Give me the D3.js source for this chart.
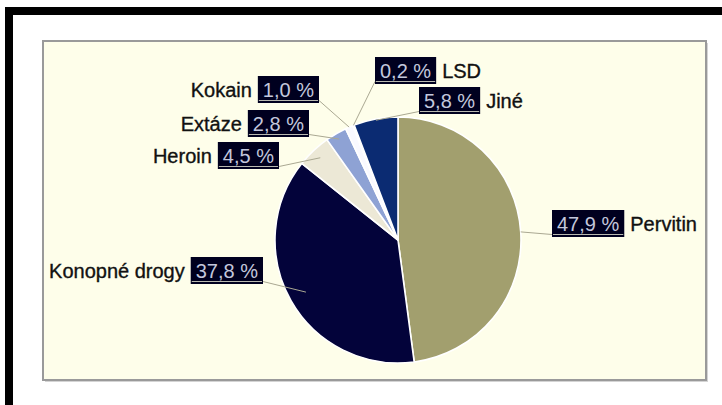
<!DOCTYPE html>
<html>
<head>
<meta charset="utf-8">
<script src="https://cdn.jsdelivr.net/npm/d3@7"></script>
<style>
  html, body { margin: 0; padding: 0; background: #ffffff; }
  svg { display: block; }
  text { font-family: "Liberation Sans", Arial, sans-serif; }
</style>
</head>
<body>
<svg id="chart" width="722" height="405"></svg>
<script>
// Drug categories, shares (%) and printed labels, clockwise from 12 o'clock
const categories = ["Pervitin", "Konopné drogy", "Heroin", "Extáze", "Kokain", "LSD", "Jiné"];
const shares = [47.9, 37.8, 4.5, 2.8, 1.0, 0.2, 5.8];
const valueLabels = ["47,9 %", "37,8 %", "4,5 %", "2,8 %", "1,0 %", "0,2 %", "5,8 %"];
const sliceColors = ["#a29f6e", "#03033a", "#ece8d6", "#8ea2d4", "#f9f9ff", "#ffffff", "#0b2b72"];

// Label placement: box top-left corner (or right edge for left-side labels),
// which side the category name sits on, and how far along the slice the leader ends
const labelLayout = [
  { x: 552, y: 210, side: "right", reach: 1.0 },
  { x: 263, y: 257, side: "left",  reach: 0.86 },
  { x: 279, y: 142, side: "left",  reach: 0.92 },
  { x: 309, y: 110, side: "left",  reach: 0.95 },
  { x: 319, y: 76,  side: "left",  reach: 1.0 },
  { x: 375, y: 57,  side: "right", reach: 1.0 },
  { x: 419, y: 87,  side: "right", reach: 0.99 }
];

const svg = d3.select("#chart");

// Page frame
svg.append("rect").attr("x", 5).attr("y", 7).attr("width", 717).attr("height", 8).attr("fill", "#000");
svg.append("rect").attr("x", 5).attr("y", 7).attr("width", 8).attr("height", 398).attr("fill", "#000");

// Plot panel with a soft drop shadow
svg.append("rect").attr("x", 45).attr("y", 43).attr("width", 663).attr("height", 339)
  .attr("fill", "#d4d4d4");
svg.append("rect").attr("x", 43).attr("y", 41).attr("width", 663).attr("height", 339)
  .attr("fill", "#fefeea").attr("stroke", "#9a9a9a").attr("stroke-width", 2);

const cx = 398, cy = 240, radius = 123;
const data = categories.map((c, i) => ({ name: c, value: shares[i], label: valueLabels[i], color: sliceColors[i], layout: labelLayout[i] }));

const pie = d3.pie().value(d => d.value).sort(null);
const arcs = pie(data);
const arc = d3.arc().innerRadius(0).outerRadius(radius);

const g = svg.append("g").attr("transform", `translate(${cx},${cy})`);
g.selectAll("path.slice")
  .data(arcs)
  .enter().append("path")
  .attr("class", "slice")
  .attr("d", arc)
  .attr("fill", d => d.data.color)
  .attr("stroke", "#ffffff")
  .attr("stroke-width", 1.6)
  .attr("stroke-linejoin", "round");

// Labels: dark value box with underline, category name beside it, leader line into the slice
const fontSize = 20, boxH = 27, pad = 5, gap = 6;
const labels = svg.append("g");

arcs.forEach(a => {
  const L = a.data.layout;
  const lg = labels.append("g");
  const valText = lg.append("text")
    .attr("font-size", fontSize)
    .attr("fill", "#c3c7dc")
    .text(a.data.label);
  const tw = valText.node().getComputedTextLength();
  const boxW = tw + pad * 2;
  const boxX = L.side === "left" ? L.x - boxW : L.x;
  const boxY = L.y;

  lg.insert("rect", "text")
    .attr("x", boxX).attr("y", boxY).attr("width", boxW).attr("height", boxH)
    .attr("fill", "#00001f");
  valText.attr("x", boxX + pad).attr("y", boxY + 20.5);

  const ulY = boxY + boxH - 2.5;
  lg.append("line")
    .attr("x1", boxX + 1).attr("x2", boxX + boxW - 1)
    .attr("y1", ulY).attr("y2", ulY)
    .attr("stroke", "#b9b9b0").attr("stroke-width", 1);

  // Leader line from box corner to a point on the slice's mid-angle ray
  const mid = (a.startAngle + a.endAngle) / 2;
  const r = radius * L.reach;
  const ex = cx + r * Math.sin(mid), ey = cy - r * Math.cos(mid);
  const sx = L.side === "left" ? boxX + boxW : boxX;
  labels.append("line")
    .attr("x1", sx).attr("y1", ulY).attr("x2", ex).attr("y2", ey)
    .attr("stroke", "#aaa892").attr("stroke-width", 1);

  lg.append("text")
    .attr("font-size", fontSize)
    .attr("fill", "#111")
    .attr("stroke", "#111")
    .attr("stroke-width", 0.35)
    .attr("text-anchor", L.side === "left" ? "end" : "start")
    .attr("x", L.side === "left" ? boxX - gap : boxX + boxW + gap)
    .attr("y", boxY + 20.5)
    .text(a.data.name);
});
labels.raise();
</script>
</body>
</html>
